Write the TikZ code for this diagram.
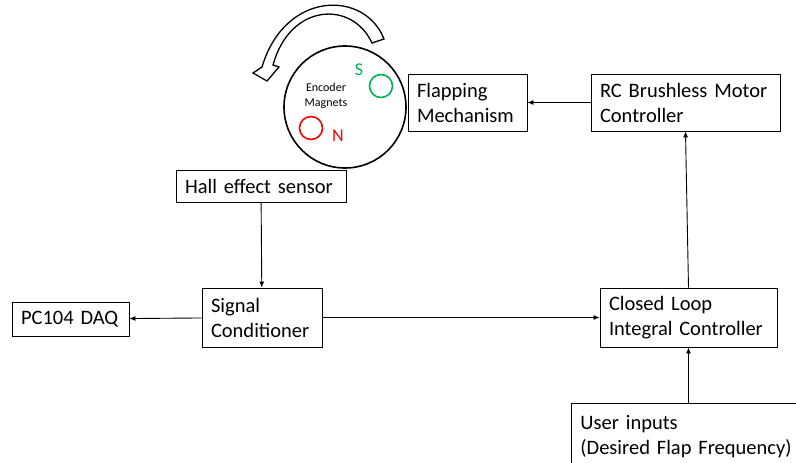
\documentclass[tikz,border=0pt]{standalone}
\usepackage{fontspec}
\setmainfont{Carlito}
\usepackage{tikz}
\usetikzlibrary{arrows.meta}
\usetikzlibrary{shapes}
\definecolor{magS}{RGB}{0,176,80}

\begin{document}
\begin{tikzpicture}[x=1pt, y=-1pt, font=\fontsize{20.5}{25}\selectfont]
    \tikzstyle{blk}=[draw, line width=0.9pt, align=left, inner xsep=9pt, inner ysep=0pt]
    \tikzstyle{link}=[line width=0.9pt, -{Latex[length=6pt,width=5pt]}]
    \tikzstyle{magnet}=[draw, circle, line width=1.6pt, minimum size=23pt, inner sep=0pt]
    \clip (0,0) rectangle (796,463);
    \draw[line width=1.3pt, fill=white] (384,39) .. controls (365,-10) and (285,-10) .. (262,67)
      -- (253,73) -- (267,81) -- (279,67) -- (273,65) .. controls (290,3) and (352,0) .. (372,43) -- cycle;
    \node[draw, circle, line width=1.6pt, minimum size=122pt, inner sep=0pt] (wheel) at (345,107) {};
    \node[font=\fontsize{12}{15}\selectfont, align=center] (enc) at (326,96) {Encoder\\Magnets};
    \node[magnet, draw=magS] (south) at (381,86) {};
    \node[magnet, draw=red] (north) at (311,128) {};
    \node[text=magS, font=\fontsize{18}{20}\selectfont] (slbl) at (359,70) {S};
    \node[text=red, font=\fontsize{18}{20}\selectfont] (nlbl) at (338,136) {N};
    \node[blk, text width=101pt, minimum height=57pt] (flap) at (467.5,102.5) {Flapping\\Mechanism};
    \node[blk, text width=171pt, minimum height=57pt] (rc) at (685.5,102.5) {RC Brushless Motor\\Controller};
    \node[blk, text width=152pt, minimum height=32pt] (hall) at (261,186) {Hall effect sensor};
    \node[blk, text width=102pt, minimum height=59pt] (sig) at (262,317.5) {Signal\\Conditioner};
    \node[blk, text width=99pt, minimum height=34pt] (daq) at (70.5,319) {PC104 DAQ};
    \node[blk, text width=159pt, minimum height=59pt] (cl) at (688.5,317.5) {Closed Loop\\Integral Controller};
    \node[blk, text width=232pt, minimum height=66pt, anchor=north west] (user) at (571,403) {User inputs\\(Desired Flap Frequency)};
    \draw[link] (rc) -- (flap);
    \draw[link] (cl.north) -- (rc.south);
    \draw[link] (hall) -- (sig);
    \draw[link] (sig) -- (cl);
    \draw[link] (sig) -- (daq);
    \draw[link] (user.north -| cl.south) -- (cl.south);
\end{tikzpicture}
\end{document}
